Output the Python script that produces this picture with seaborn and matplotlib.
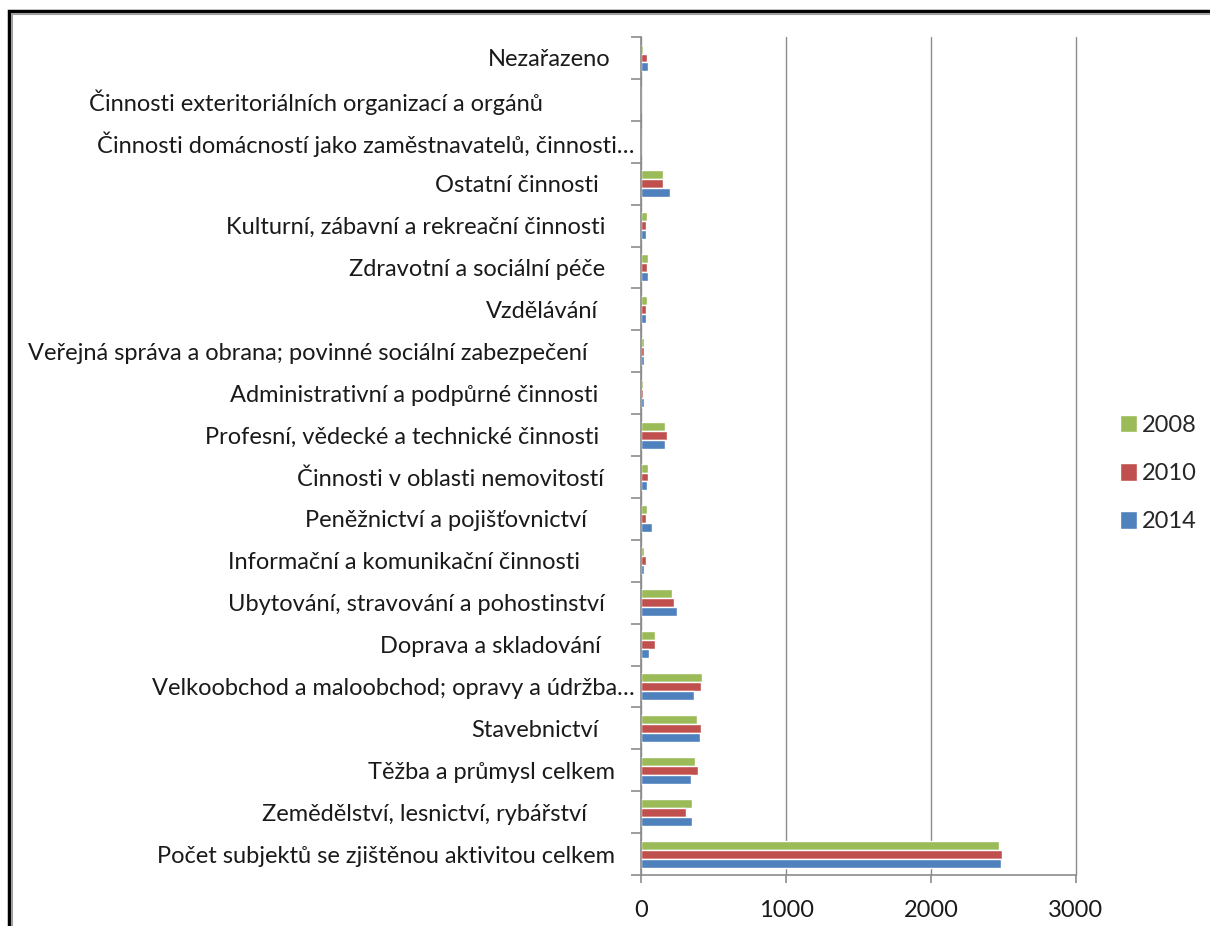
import matplotlib.pyplot as plt
import seaborn as sns
import pandas as pd
from matplotlib.patches import Rectangle
from matplotlib.transforms import ScaledTranslation

# kategorie odshora dolů
categories = [
    'Nezařazeno',
    'Činnosti exteritoriálních organizací a orgánů',
    'Činnosti domácností jako zaměstnavatelů, činnosti…',
    'Ostatní činnosti',
    'Kulturní, zábavní a rekreační činnosti',
    'Zdravotní a sociální péče',
    'Vzdělávání',
    'Veřejná správa a obrana; povinné sociální zabezpečení',
    'Administrativní a podpůrné činnosti',
    'Profesní, vědecké a technické činnosti',
    'Činnosti v oblasti nemovitostí',
    'Peněžnictví a pojišťovnictví',
    'Informační a komunikační činnosti',
    'Ubytování, stravování a pohostinství',
    'Doprava a skladování',
    'Velkoobchod a maloobchod; opravy a údržba…',
    'Stavebnictví',
    'Těžba a průmysl celkem',
    'Zemědělství, lesnictví, rybářství',
    'Počet subjektů se zjištěnou aktivitou celkem',
]
years = ['2008', '2010', '2014']
v2008 = [11, 0, 0, 149, 39, 48, 39, 21, 11, 166, 46, 39, 21, 209, 97, 421, 386, 370, 352, 2473]
v2010 = [39, 0, 0, 149, 30, 39, 30, 21, 11, 175, 46, 30, 30, 225, 97, 411, 411, 395, 310, 2492]
v2014 = [48, 0, 0, 200, 30, 48, 30, 21, 21, 166, 39, 74, 21, 244, 55, 363, 402, 343, 352, 2484]
colors = ['#9BBB59', '#C0504D', '#4F81BD']

# posun popisků doleva (px), jako v původním grafu
label_shift = [24, 91, 0, 36, 29, 29, 36, 47, 36, 35, 30, 47, 54, 30, 34, 0, 36, 19, 47, 19]

df = pd.DataFrame({
    'kategorie': categories * 3,
    'rok': [y for y in years for _ in categories],
    'hodnota': v2008 + v2010 + v2014,
})

sns.set_theme(style='white')
plt.rcParams['font.family'] = ['Lato', 'DejaVu Sans']

fig = plt.figure(figsize=(12.1, 9.26), dpi=100)
ax = fig.add_axes([0.530, 0.055, 0.359, 0.905])
sns.barplot(data=df, y='kategorie', x='hodnota', hue='rok', hue_order=years,
            order=categories, palette=colors, width=0.64, orient='h',
            saturation=1, errorbar=None, ax=ax)

ax.set_xlim(0, 3000)
ax.set_ylim(len(categories) - 0.5, -0.5)
ax.set_xticks([0, 1000, 2000, 3000])
ax.set_xlabel('')
ax.set_ylabel('')
ax.grid(axis='x', color='#8c8c8c', linewidth=1)
for gl in ax.get_xgridlines():
    gl.set_clip_on(False)
ax.set_axisbelow(True)
for s in ['top', 'right']:
    ax.spines[s].set_visible(False)
for s in ['left', 'bottom']:
    ax.spines[s].set_color('#8c8c8c')
    ax.spines[s].set_linewidth(1.2)

# čárky na hranicích kategorií
ax.set_yticks([i - 0.5 for i in range(len(categories) + 1)], minor=True)
ax.tick_params(axis='y', which='major', length=0, pad=5, labelsize=17, colors='#1a1a1a')
ax.tick_params(axis='y', which='minor', left=True, length=7, width=1.2, color='#8c8c8c')
ax.tick_params(axis='x', which='major', bottom=True, length=6, width=1.2, color='#8c8c8c',
               pad=12, labelsize=17, labelcolor='#1a1a1a')

for lab, sh in zip(ax.get_yticklabels(), label_shift):
    lab.set_transform(lab.get_transform() + ScaledTranslation(-sh / 100, 0, fig.dpi_scale_trans))

ax.legend(title=None, frameon=False, loc='center left', bbox_to_anchor=(1.052, 0.479),
          fontsize=17, handlelength=0.75, handleheight=0.75, handletextpad=0.2,
          labelspacing=1.15)

# rámeček grafu
fig.patches.append(Rectangle((9 / 1210, -0.1), 1.2, 1.1 - 11 / 926, transform=fig.transFigure,
                             fill=False, edgecolor='black', linewidth=2.5))
fig.patches.append(Rectangle((12 / 1210, -0.1), 1.2, 1.1 - 14 / 926, transform=fig.transFigure,
                             fill=False, edgecolor='#a0a0a0', linewidth=1.5))

fig.savefig('out.png', dpi=100)
